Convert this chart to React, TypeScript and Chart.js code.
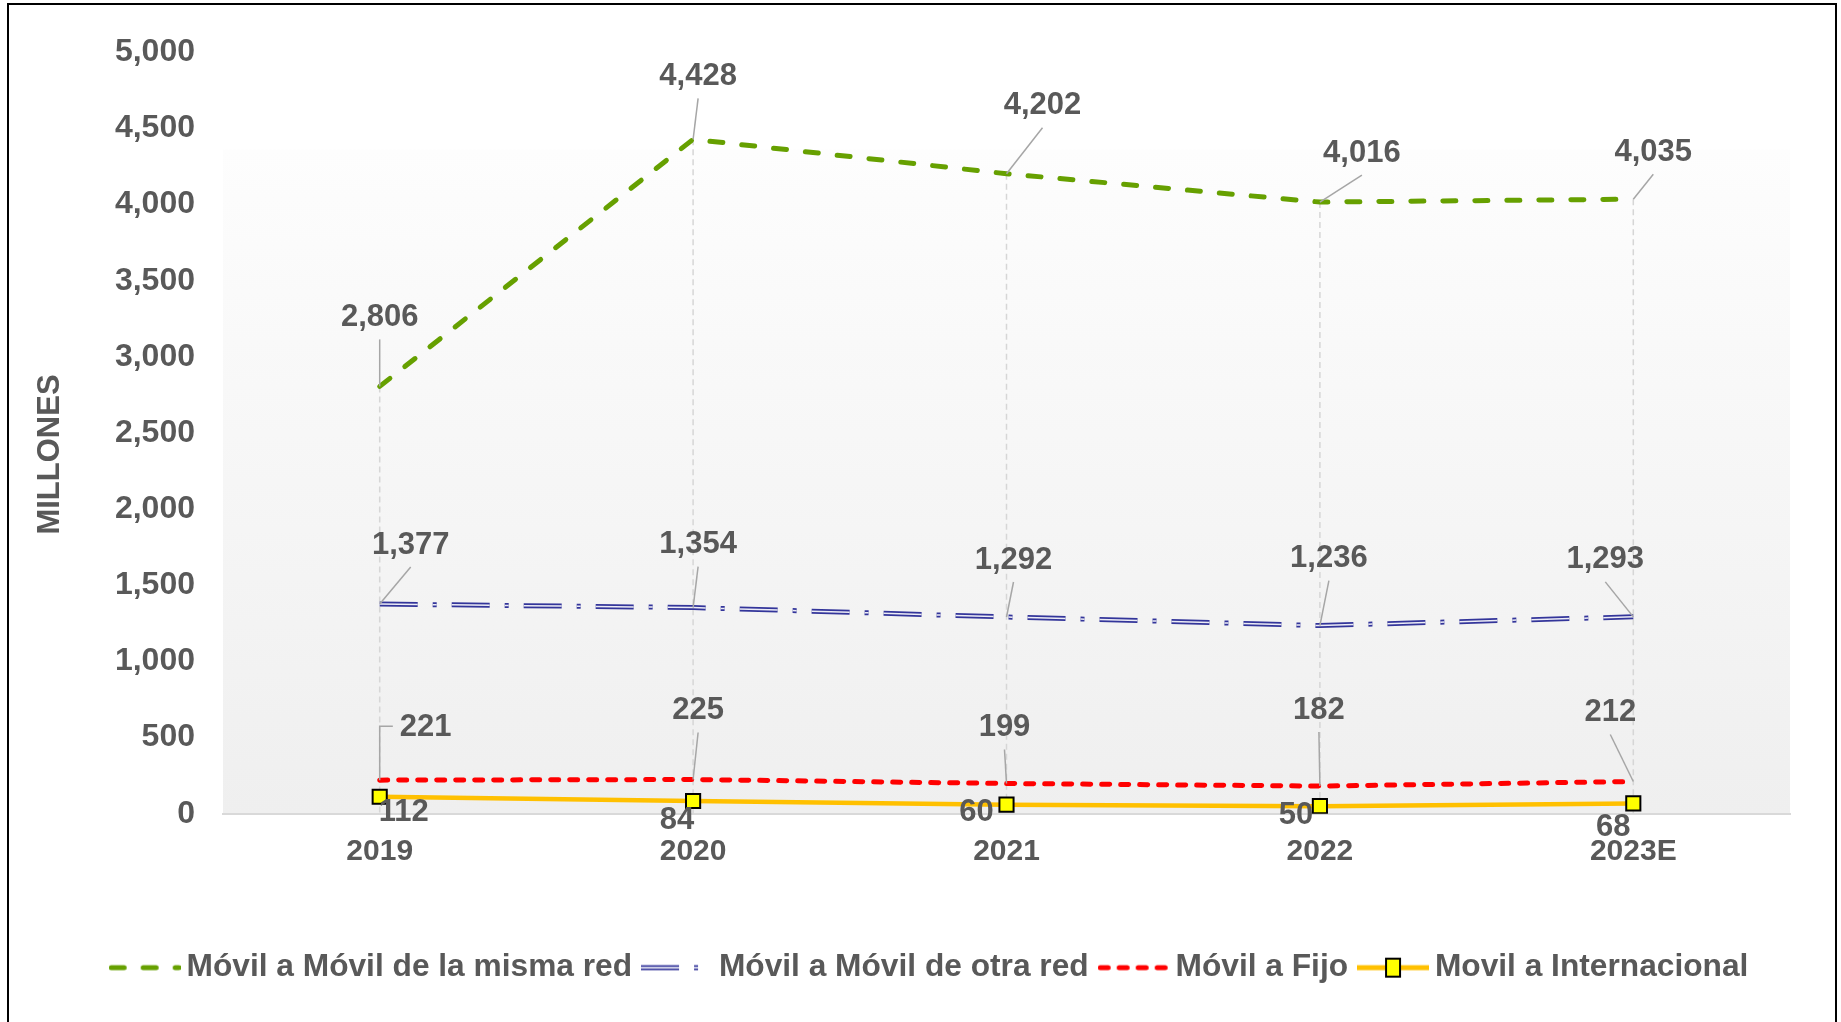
import React, { useEffect, useRef } from 'react';
import { Chart, registerables } from 'chart.js';

Chart.register(...registerables);

// ---- data ----
const categories = ['2019', '2020', '2021', '2022', '2023E'];
const movilMismaRed = [2806, 4428, 4202, 4016, 4035];
const movilOtraRed = [1377, 1354, 1292, 1236, 1293];
const movilFijo = [221, 225, 199, 182, 212];
const movilInternacional = [112, 84, 60, 50, 68];
const seriesNames = [
  'Móvil a Móvil de la misma red',
  'Móvil a Móvil de otra red',
  'Móvil a Fijo',
  'Movil a Internacional',
];
const yAxisTitle = 'MILLONES';
const yMin = 0;
const yMax = 5000;
const yStep = 500;

// ---- label placement (pixel offsets from each point, style only) ----
const greenLabelOffsets = [[0, -70], [5, -64], [36, -69], [42, -50], [20, -48]];
const blueLabelOffsets = [[31, -60], [5, -64], [7, -58], [9, -68], [-28, -58]];
const redLabelOffsets = [[46, -54], [5, -70], [-2, -57], [-1, -77], [-23, -70]];
const yellowLabelOffsets = [[24, 15], [-16, 18], [-30, 7], [-24, 8], [-20, 23]];

// ---- styles ----
const FONT = '"Liberation Sans", Arial, Helvetica, sans-serif';
const TEXT = '#595959';
const GREEN = '#66a000';
const BLUE = '#33359a';
const BLUE_INNER = 'rgba(236,236,246,1)';
const RED = '#ff0000';
const ORANGE = '#ffc000';
const YELLOW = '#ffff00';
const GREEN_DASH = [13, 19];
const BLUE_DASH = [38, 15, 4, 15];
const RED_DASH = [8, 11];

const fmt = (v: number) => v.toLocaleString('en-US');

function makeSample(kind: string): HTMLCanvasElement {
  const c = document.createElement('canvas');
  c.width = 72;
  c.height = 24;
  const g = c.getContext('2d')!;
  const y = 12;
  if (kind === 'green') {
    g.strokeStyle = GREEN; g.lineWidth = 5; g.lineCap = 'round';
    g.setLineDash(GREEN_DASH);
    g.beginPath(); g.moveTo(2.5, y); g.lineTo(70, y); g.stroke();
  } else if (kind === 'blue') {
    g.lineCap = 'butt';
    g.strokeStyle = BLUE; g.lineWidth = 5; g.setLineDash(BLUE_DASH);
    g.beginPath(); g.moveTo(0, y); g.lineTo(72, y); g.stroke();
    g.strokeStyle = '#ffffff'; g.lineWidth = 1.5;
    g.beginPath(); g.moveTo(0, y); g.lineTo(72, y); g.stroke();
  } else if (kind === 'red') {
    g.strokeStyle = RED; g.lineWidth = 5; g.lineCap = 'round';
    g.setLineDash(RED_DASH);
    g.beginPath(); g.moveTo(2.5, y); g.lineTo(70, y); g.stroke();
  } else {
    g.strokeStyle = ORANGE; g.lineWidth = 5; g.lineCap = 'butt';
    g.beginPath(); g.moveTo(0, y); g.lineTo(72, y); g.stroke();
    g.fillStyle = YELLOW; g.strokeStyle = '#000'; g.lineWidth = 2;
    g.fillRect(29, 3, 14, 18);
    g.strokeRect(29, 3, 14, 18);
  }
  return c;
}

const backgroundPlugin = {
  id: 'plotBackground',
  beforeDraw(chart: any) {
    const { ctx, chartArea } = chart;
    if (!chartArea) return;
    const { left, right, top, bottom } = chartArea;
    const gTop = top + (bottom - top) * 0.128;
    const grad = ctx.createLinearGradient(0, gTop, 0, bottom);
    grad.addColorStop(0, '#fdfdfd');
    grad.addColorStop(1, '#efefef');
    ctx.save();
    ctx.fillStyle = grad;
    ctx.fillRect(left, gTop, right - left, bottom - gTop);
    ctx.restore();
  },
};

const dropLinePlugin = {
  id: 'dropLines',
  beforeDatasetsDraw(chart: any) {
    const { ctx, chartArea } = chart;
    const metas = chart.getSortedVisibleDatasetMetas();
    const n = chart.data.labels.length;
    ctx.save();
    ctx.strokeStyle = '#d6d6d6';
    ctx.lineWidth = 1.5;
    ctx.setLineDash([6, 4]);
    for (let i = 0; i < n; i++) {
      let minY = Infinity;
      let x = 0;
      metas.forEach((m: any) => {
        const el = m.data[i];
        if (el && el.y < minY) { minY = el.y; x = el.x; }
      });
      ctx.beginPath();
      ctx.moveTo(x, minY);
      ctx.lineTo(x, chartArea.bottom);
      ctx.stroke();
    }
    ctx.restore();
  },
};

const dataLabelPlugin = {
  id: 'excelLabels',
  afterDatasetsDraw(chart: any) {
    const { ctx } = chart;
    ctx.save();
    ctx.font = `bold 31px ${FONT}`;
    ctx.textAlign = 'center';
    ctx.textBaseline = 'middle';
    chart.data.datasets.forEach((ds: any, di: number) => {
      if (!ds.labelOffsets) return;
      const meta = chart.getDatasetMeta(di);
      ds.data.forEach((v: number, i: number) => {
        const el = meta.data[i];
        if (!el) return;
        const px = el.x, py = el.y;
        const [dx, dy] = ds.labelOffsets[i];
        const lx = px + dx, ly = py + dy;
        const text = fmt(v);
        const w = ctx.measureText(text).width;
        if (ds.leader) {
          ctx.strokeStyle = '#a6a6a6';
          ctx.lineWidth = 1.5;
          ctx.setLineDash([]);
          ctx.beginPath();
          ctx.moveTo(px, py);
          if (px >= lx - w / 2 - 8 && px <= lx + w / 2 + 8) {
            ctx.lineTo(lx, ly + (dy < 0 ? 23 : -23));
          } else {
            const ex = px < lx ? lx - w / 2 - 7 : lx + w / 2 + 7;
            ctx.lineTo(px, ly);
            ctx.lineTo(ex, ly);
          }
          ctx.stroke();
        }
        ctx.fillStyle = TEXT;
        ctx.fillText(text, lx, ly + 1);
      });
    });
    ctx.restore();
  },
};

const yTitlePlugin = {
  id: 'yTitle',
  afterDraw(chart: any) {
    const { ctx, chartArea } = chart;
    ctx.save();
    ctx.translate(41, (chartArea.top + chartArea.bottom) / 2 + 21.5);
    ctx.rotate(-Math.PI / 2);
    ctx.font = `bold 31px ${FONT}`;
    ctx.fillStyle = TEXT;
    ctx.textAlign = 'center';
    ctx.textBaseline = 'middle';
    ctx.fillText(yAxisTitle, 0, 0);
    ctx.restore();
  },
};

export default function App() {
  const ref = useRef<HTMLCanvasElement | null>(null);

  useEffect(() => {
    if (!ref.current) return;
    const samples = [makeSample('green'), makeSample('blue'), makeSample('red'), makeSample('yellow')];
    const chart = new Chart(ref.current, {
      type: 'line',
      data: {
        labels: categories,
        datasets: [
          {
            label: seriesNames[0],
            data: movilMismaRed,
            borderColor: GREEN,
            borderWidth: 5,
            borderDash: GREEN_DASH,
            borderCapStyle: 'round',
            pointRadius: 0,
            tension: 0,
            order: 4,
            labelOffsets: greenLabelOffsets,
            leader: true,
          } as any,
          {
            label: seriesNames[1],
            data: movilOtraRed,
            borderColor: BLUE,
            borderWidth: 5,
            borderDash: BLUE_DASH,
            pointRadius: 0,
            tension: 0,
            order: 2,
            labelOffsets: blueLabelOffsets,
            leader: true,
          } as any,
          {
            label: seriesNames[1] + ' (inner)',
            data: movilOtraRed,
            borderColor: BLUE_INNER,
            borderWidth: 1.5,
            borderDash: BLUE_DASH,
            pointRadius: 0,
            tension: 0,
            order: 1,
          } as any,
          {
            label: seriesNames[2],
            data: movilFijo,
            borderColor: RED,
            borderWidth: 5,
            borderDash: RED_DASH,
            borderCapStyle: 'round',
            pointRadius: 0,
            tension: 0,
            order: 3,
            labelOffsets: redLabelOffsets,
            leader: true,
          } as any,
          {
            label: seriesNames[3],
            data: movilInternacional,
            borderColor: ORANGE,
            borderWidth: 4.5,
            pointStyle: 'rect',
            pointRadius: 10,
            pointBorderWidth: 2,
            pointBorderColor: '#000000',
            pointBackgroundColor: YELLOW,
            tension: 0,
            order: 0,
            labelOffsets: yellowLabelOffsets,
            leader: false,
          } as any,
        ],
      },
      options: {
        responsive: false,
        animation: false,
        devicePixelRatio: 1,
        layout: { padding: { top: 45, left: 68, right: 45, bottom: 28.5 } },
        scales: {
          x: {
            type: 'category',
            offset: true,
            grid: { display: false, drawTicks: false },
            border: { display: true, color: '#d9d9d9', width: 2 },
            ticks: {
              color: TEXT,
              padding: 19.5,
              font: { family: FONT, size: 30, weight: 'bold' },
              maxRotation: 0,
            },
            afterFit: (s: any) => { s.height = 119; },
          },
          y: {
            min: yMin,
            max: yMax,
            grid: { display: false, drawTicks: false },
            border: { display: false },
            ticks: {
              stepSize: yStep,
              color: TEXT,
              padding: 28,
              font: { family: FONT, size: 32, weight: 'bold' },
              callback: (v: any) => fmt(Number(v)),
            },
            afterFit: (s: any) => { s.width = 146; },
          },
        },
        plugins: {
          tooltip: { enabled: false },
          legend: {
            position: 'bottom',
            labels: {
              usePointStyle: true,
              pointStyleWidth: 52,
              padding: 19,
              color: TEXT,
              font: { family: FONT, size: 31.7, weight: 'bold' },
              generateLabels: () =>
                seriesNames.map((name, i) => ({
                  text: name,
                  pointStyle: samples[i],
                  fillStyle: 'transparent',
                  strokeStyle: 'transparent',
                  lineWidth: 0,
                  hidden: false,
                  fontColor: TEXT,
                  datasetIndex: [0, 1, 3, 4][i],
                })),
            },
          },
        },
      } as any,
      plugins: [backgroundPlugin, dropLinePlugin, dataLabelPlugin, yTitlePlugin],
    });
    return () => chart.destroy();
  }, []);

  return (
    <div
      style={{
        position: 'absolute',
        left: 7,
        top: 3,
        width: 1830,
        height: 1019,
        border: '2px solid #000',
        borderBottom: 'none',
        boxSizing: 'border-box',
        background: '#fff',
        overflow: 'hidden',
      }}
    >
      <canvas ref={ref} width={1826} height={1017} style={{ display: 'block', width: 1826, height: 1017 }} />
    </div>
  );
}
